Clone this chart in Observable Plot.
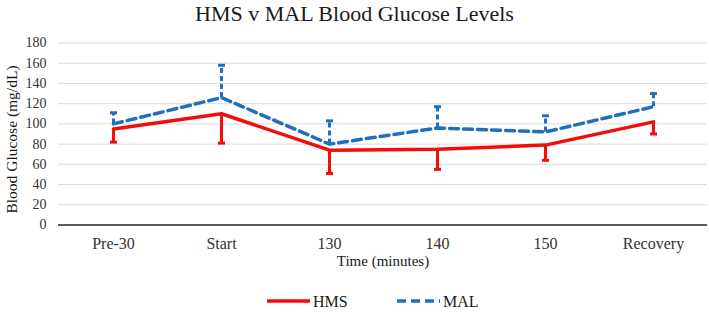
<!DOCTYPE html>
<html>
<head>
<meta charset="utf-8">
<script src="https://cdn.jsdelivr.net/npm/d3@7"></script>
<script src="https://cdn.jsdelivr.net/npm/@observablehq/plot@0.6"></script>
<style>
  body { margin: 0; background: #fff; font-family: "Liberation Serif", "Times New Roman", serif; }
  #wrap { width: 709px; height: 312px; position: relative; overflow: hidden; background: #fff; }
  #title { height: 28px; line-height: 27px; text-align: center; font-size: 22px; color: #1a1a1a; }
  #chart svg, #legend svg { display: block; font-family: "Liberation Serif", "Times New Roman", serif; }
  #chart svg text, #legend svg text { font-family: "Liberation Serif", "Times New Roman", serif; }
</style>
</head>
<body>
<div id="wrap">
  <div id="title">HMS v MAL Blood Glucose Levels</div>
  <div id="chart"></div>
  <div id="legend"></div>
</div>
<script>
// Time points on the x axis
const timepoints = ["Pre-30", "Start", "130", "140", "150", "Recovery"];

// HMS group: mean glucose and lower end of its error bar (mg/dL)
const hmsMean  = [95, 110, 74, 75, 79, 102];
const hmsLower = [82, 81, 51, 55, 64, 90];

// MAL group: mean glucose and upper end of its error bar (mg/dL)
const malMean  = [100, 126, 80, 96, 92, 117];
const malUpper = [111, 158, 103, 117, 108, 130];

// Y axis ticks
const yTicks = [0, 20, 40, 60, 80, 100, 120, 140, 160, 180];

const seriesNames = ["HMS", "MAL"];
const red = "#f20d0d";
const blue = "#1f6fc0";
const dash = "9,5";

const hms = timepoints.map((t, i) => ({t, v: hmsMean[i], e: hmsLower[i]}));
const mal = timepoints.map((t, i) => ({t, v: malMean[i], e: malUpper[i]}));

// Horizontal cap drawn at the end of each error bar
const cap = {
  draw(context, size) {
    const r = Math.sqrt(size / Math.PI);
    context.moveTo(-r, 0);
    context.lineTo(r, 0);
  }
};

const font = '"Liberation Serif", "Times New Roman", serif';

const chart = Plot.plot({
  width: 709,
  height: 242,
  marginLeft: 58,
  marginRight: 2,
  marginTop: 14.5,
  marginBottom: 45.5,
  style: { fontFamily: font, fontSize: "14px", color: "#333", background: "#fff", overflow: "visible" },
  x: { type: "point", domain: timepoints, padding: 0.5, label: null },
  y: { domain: [0, 180], label: null },
  marks: [
    Plot.gridY(yTicks, { stroke: "#d9d9d9", strokeOpacity: 1, strokeWidth: 1 }),
    Plot.axisY(yTicks, { tickSize: 0, tickPadding: 12, fontSize: 14, fill: "#333", label: null }),
    Plot.axisX({ tickSize: 0, tickPadding: 13, fontSize: 16, fill: "#333", label: null }),
    Plot.ruleY([0], { stroke: "#2b2b2b", strokeWidth: 1.5 }),
    // error bars
    Plot.ruleX(hms, { x: "t", y1: "v", y2: "e", stroke: red, strokeWidth: 3 }),
    Plot.dot(hms, { x: "t", y: "e", symbol: cap, r: 3.5, stroke: red, strokeWidth: 3, fill: "none" }),
    Plot.ruleX(mal, { x: "t", y1: "v", y2: "e", stroke: blue, strokeWidth: 3, strokeDasharray: "5,3" }),
    Plot.dot(mal, { x: "t", y: "e", symbol: cap, r: 3.5, stroke: blue, strokeWidth: 3, fill: "none" }),
    // series lines
    Plot.line(hms, { x: "t", y: "v", stroke: red, strokeWidth: 3.5 }),
    Plot.line(mal, { x: "t", y: "v", stroke: blue, strokeWidth: 3.5, strokeDasharray: dash }),
    // axis titles
    Plot.text(["Time (minutes)"], { frameAnchor: "bottom", textAnchor: "middle", dy: 36, lineAnchor: "middle", fontSize: 15, fill: "#1a1a1a" }),
    Plot.text(["Blood Glucose (mg/dL)"], { frameAnchor: "left", textAnchor: "middle", dx: -46, dy: 5.5, rotate: -90, lineAnchor: "middle", fontSize: 15.5, fill: "#1a1a1a" })
  ]
});
document.getElementById("chart").appendChild(chart);

// Legend below the chart
const legend = d3.select("#legend").append("svg")
  .attr("width", 709).attr("height", 42)
  .style("font-family", font);
const items = [
  { name: seriesNames[0], color: red, dash: null, x: 267 },
  { name: seriesNames[1], color: blue, dash: dash, x: 397 }
];
for (const it of items) {
  legend.append("line")
    .attr("x1", it.x).attr("x2", it.x + 43)
    .attr("y1", 31).attr("y2", 31)
    .attr("stroke", it.color).attr("stroke-width", 3.5)
    .attr("stroke-dasharray", it.dash);
  legend.append("text")
    .attr("x", it.x + 46).attr("y", 31).attr("dy", "0.35em")
    .attr("font-size", 16).attr("fill", "#1a1a1a")
    .text(it.name);
}
</script>
</body>
</html>
